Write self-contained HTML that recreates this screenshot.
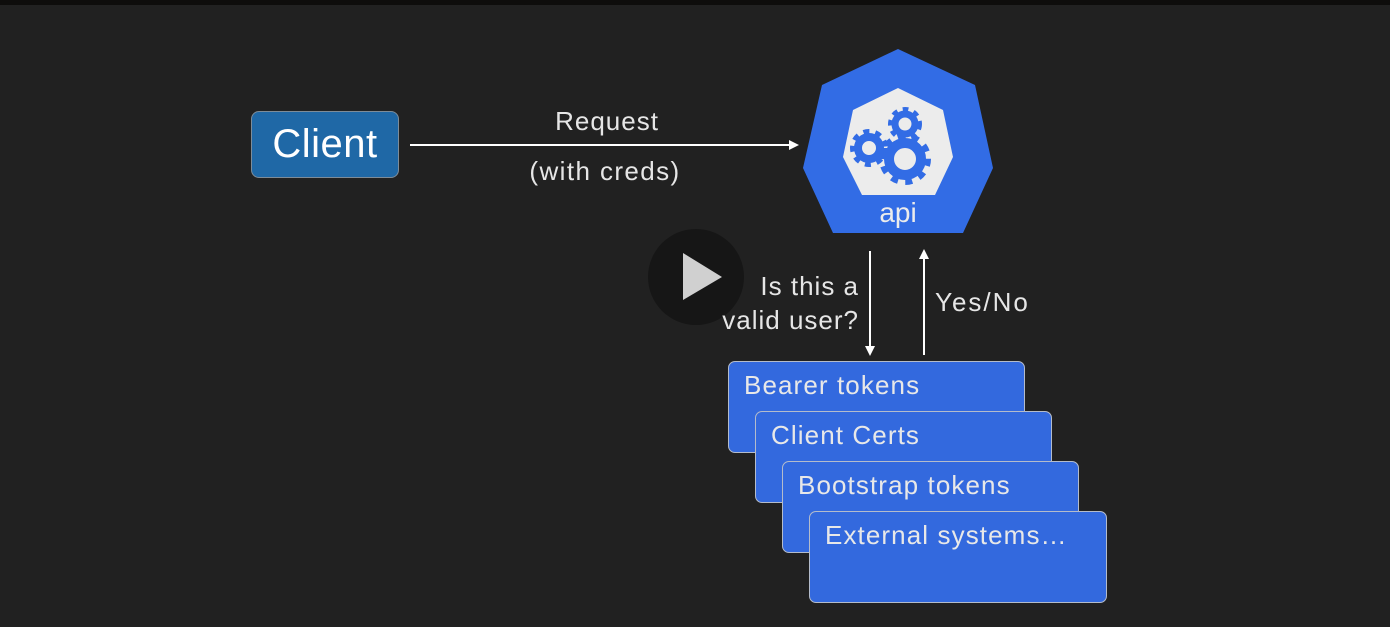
<!DOCTYPE html>
<html><head><meta charset="utf-8"><style>
html,body{margin:0;padding:0;}
body{width:1390px;height:627px;background:#212121;position:relative;overflow:hidden;font-family:"Liberation Sans",Roboto,sans-serif;}
.t{position:absolute;color:#e6e6e6;white-space:nowrap;letter-spacing:1px;}
.box{position:absolute;width:297px;height:92px;background:#3369de;border:1px solid #b4bccb;border-radius:7px;box-sizing:border-box;}
.box span{position:absolute;left:15px;top:8px;font-size:26px;letter-spacing:1.1px;color:#e8e8e8;}
</style></head><body>
<div style="position:absolute;left:0;top:0;width:1390px;height:5px;background:#0e0d0c"></div>
<div style="position:absolute;left:251px;top:111px;width:148px;height:67px;background:#1f68a6;border:1px solid #7d8c99;border-radius:8px;box-sizing:border-box;"></div>
<div class="t" style="left:251px;width:148px;text-align:center;top:122px;font-size:40px;color:#fff;letter-spacing:0.5px;">Client</div>
<div class="t" style="left:507px;width:200px;text-align:center;top:106px;font-size:26px;">Request</div>
<div class="t" style="left:505px;width:200px;text-align:center;top:156px;font-size:26px;letter-spacing:1.4px;">(with creds)</div>
<svg width="1390" height="627" style="position:absolute;left:0;top:0">
<line x1="410" y1="145" x2="792" y2="145" stroke="#fff" stroke-width="2"/>
<polygon points="799,145 789,140 789,150" fill="#fff"/>
<polygon points="898,49 975,85 993,168 963,233 833,233 803,168 822,85" fill="#326ce5"/>
<polygon points="898,88 943,110 953,157 935,195 862,195 843,157 853,110" fill="#ececec"/>
<g fill="none" stroke="#326ce5">
<circle cx="905" cy="124" r="10" stroke-width="7"/>
<circle cx="905" cy="124" r="14.5" stroke-width="5" stroke-dasharray="5.5 5.5"/>
<circle cx="869" cy="148" r="11" stroke-width="8"/>
<circle cx="869" cy="148" r="16.5" stroke-width="5" stroke-dasharray="6 6"/>
<circle cx="905" cy="159" r="16" stroke-width="10"/>
<circle cx="905" cy="159" r="23" stroke-width="6" stroke-dasharray="7 7.4"/>
</g>
<text x="898" y="222" text-anchor="middle" font-family="Liberation Sans,sans-serif" font-size="28" fill="#ececec">api</text>
<circle cx="696" cy="277" r="48" fill="#161616"/>
<polygon points="683,253 683,300 722,277" fill="#d0d0d0"/>
<line x1="870" y1="251" x2="870" y2="348" stroke="#fff" stroke-width="2"/>
<polygon points="870,356 865,346 875,346" fill="#fff"/>
<line x1="924" y1="257" x2="924" y2="355" stroke="#fff" stroke-width="2"/>
<polygon points="924,249 919,259 929,259" fill="#fff"/>
</svg>
<div class="t" style="right:531px;top:269px;font-size:26px;text-align:right;line-height:34px;">Is this a<br>valid user?</div>
<div class="t" style="left:935px;top:287px;font-size:26px;letter-spacing:2px;">Yes/No</div>
<div class="box" style="left:728px;top:361px;"><span>Bearer tokens</span></div>
<div class="box" style="left:755px;top:411px;"><span>Client Certs</span></div>
<div class="box" style="left:782px;top:461px;"><span>Bootstrap tokens</span></div>
<div class="box" style="left:809px;top:511px;width:298px;height:92px;"><span>External systems…</span></div>
</body></html>
